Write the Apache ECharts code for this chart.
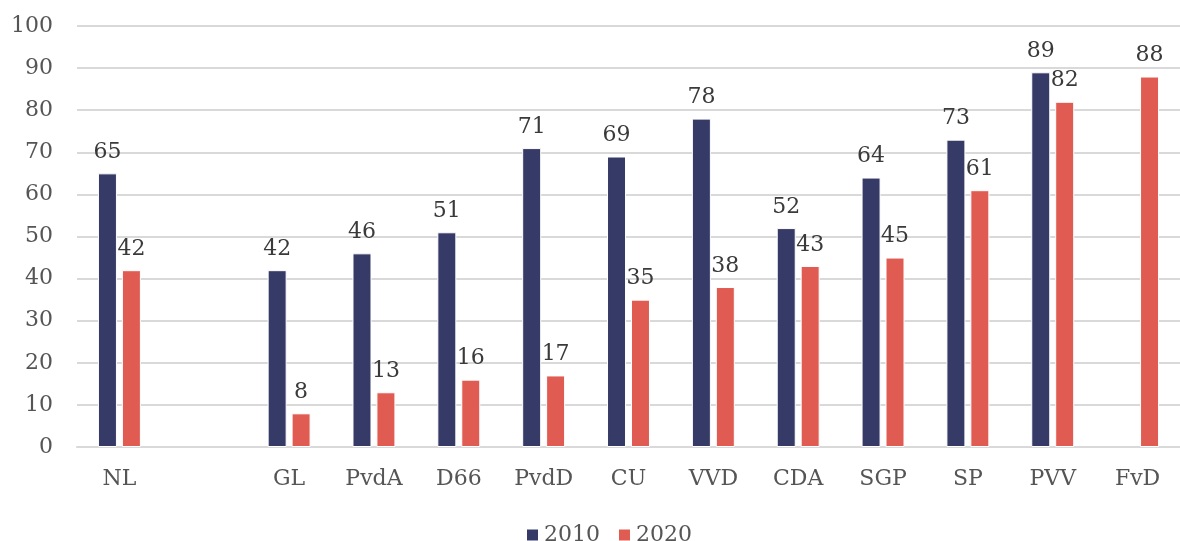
<!DOCTYPE html>
<html>
<head>
<meta charset="utf-8">
<script src="https://cdn.jsdelivr.net/npm/echarts@6/dist/echarts.min.js"></script>
<style>
  html, body { margin: 0; padding: 0; background: #fff; }
  #chart { width: 1180px; height: 541px; }
</style>
</head>
<body>
<div id="chart"></div>
<script>
// party names, the blank one keeps the gap after NL
const categories = ['NL', '', 'GL', 'PvdA', 'D66', 'PvdD', 'CU', 'VVD', 'CDA', 'SGP', 'SP', 'PVV', 'FvD']
const values2010 = [65, '-', 42, 46, 51, 71, 69, 78, 52, 64, 73, 89, '-']
const values2020 = [42, '-', 8, 13, 16, 17, 35, 38, 43, 45, 61, 82, 88]
const yTicks = { min: 0, max: 100, interval: 10 }

const font = '"DejaVu Serif", serif'

const barLabel = {
  show: true,
  position: 'top',
  distance: 10,
  fontFamily: font,
  fontSize: 22,
  color: '#3a3a3a'
}

const chart = echarts.init(document.getElementById('chart'))
chart.setOption({
  animation: false,
  textStyle: { fontFamily: font },
  grid: {
    left: 77,
    top: 26,
    width: 1116,
    height: 421
  },
  legend: {
    left: 520,
    top: 519,
    itemWidth: 13,
    itemHeight: 13,
    itemGap: 17,
    icon: 'rect',
    textStyle: { fontFamily: font, fontSize: 22, color: '#555555' },
    data: ['2010', '2020']
  },
  xAxis: {
    type: 'category',
    data: categories,
    axisLine: { lineStyle: { color: '#d9d9d9', width: 2 } },
    axisTick: { show: false },
    axisLabel: { fontFamily: font, fontSize: 22, color: '#555555', margin: 21 }
  },
  yAxis: {
    type: 'value',
    min: yTicks.min,
    max: yTicks.max,
    interval: yTicks.interval,
    axisLine: { show: false },
    axisTick: { show: false },
    axisLabel: { fontFamily: font, fontSize: 22, color: '#555555', margin: 24 },
    splitLine: { lineStyle: { color: '#d9d9d9', width: 2 } }
  },
  series: [
    {
      name: '2010',
      type: 'bar',
      data: values2010,
      barWidth: 19,
      barGap: '26%',
      itemStyle: { color: '#363a66', borderColor: '#ffffff', borderWidth: 1 },
      label: barLabel
    },
    {
      name: '2020',
      type: 'bar',
      data: values2020,
      barWidth: 19,
      itemStyle: { color: '#e05c52', borderColor: '#ffffff', borderWidth: 1 },
      label: barLabel
    }
  ]
})
</script>
</body>
</html>
